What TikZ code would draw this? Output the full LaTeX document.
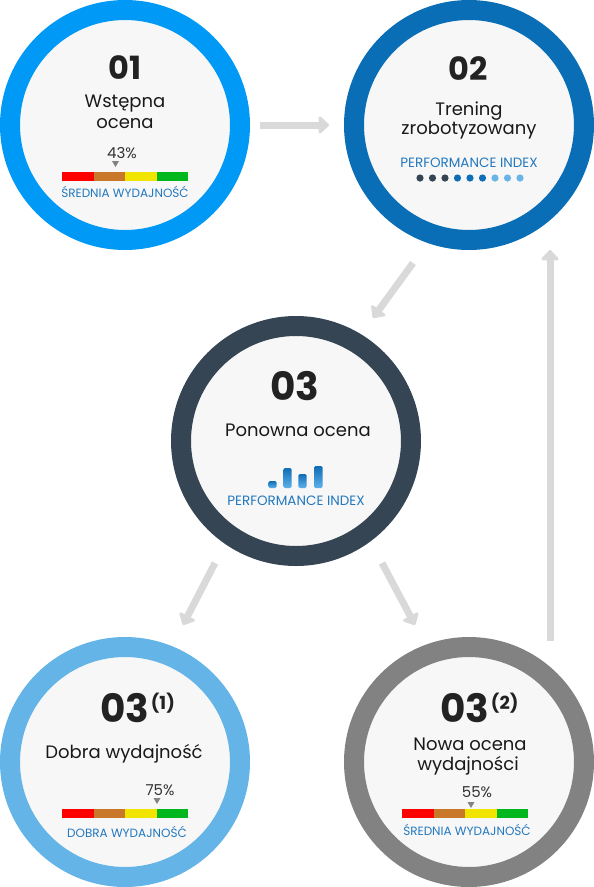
\documentclass[tikz,border=0pt]{standalone}
\usepackage{fontspec}
\setmainfont{Poppins}
\usetikzlibrary{arrows.meta,calc}
\definecolor{ringA}{RGB}{0,153,245}
\definecolor{ringB}{RGB}{10,110,183}
\definecolor{ringC}{RGB}{54,69,84}
\definecolor{ringD}{RGB}{100,180,232}
\definecolor{ringE}{RGB}{130,130,130}
\definecolor{bgc}{RGB}{247,247,247}
\definecolor{arrc}{RGB}{217,217,217}
\definecolor{numc}{RGB}{34,34,34}
\definecolor{txtc}{RGB}{25,25,25}
\definecolor{pctc}{RGB}{50,50,50}
\definecolor{lblc}{RGB}{35,120,190}
\definecolor{bred}{RGB}{255,0,0}
\definecolor{bbrown}{RGB}{200,120,40}
\definecolor{byellow}{RGB}{240,228,0}
\definecolor{bgreen}{RGB}{0,184,30}
\definecolor{mkc}{RGB}{130,130,130}
\definecolor{dotA}{RGB}{54,69,84}
\definecolor{dotB}{RGB}{14,110,184}
\definecolor{dotC}{RGB}{106,180,230}
\definecolor{barTop}{RGB}{15,109,181}
\definecolor{barBot}{RGB}{93,177,234}
\newcommand{\scorebar}[2]{%
  \fill[bred] (#1,#2) rectangle ++(31.5,9);
  \fill[bbrown] (#1+31.5,#2) rectangle ++(31.5,9);
  \fill[byellow] (#1+63,#2) rectangle ++(31.5,9);
  \fill[bgreen] (#1+94.5,#2) rectangle ++(31.5,9);}
\newcommand{\marker}[2]{%
  \fill[mkc] (#1-3.5,#2) -- (#1+3.5,#2) -- (#1,#2+6) -- cycle;}
\tikzset{
  ring/.style={circle, minimum size=230pt, inner sep=0pt, line width=20pt, fill=bgc, draw=#1},
  flow/.style={draw=arrc, line width=7pt, -{Triangle[width=20pt,length=11pt,round]}},
  num/.style={font=\fontsize{32}{32}\selectfont\bfseries, text=numc, inner sep=0pt, anchor=base},
  bignum/.style={font=\fontsize{39}{39}\selectfont\bfseries, text=numc, inner sep=0pt, anchor=base},
  supnum/.style={font=\fontsize{18}{18}\selectfont\bfseries, text=numc, inner sep=0pt, anchor=base west},
  ttl/.style={font=\fontsize{18}{18}\selectfont, text=txtc, inner sep=0pt, anchor=base},
  pct/.style={font=\fontsize{15}{15}\selectfont, text=pctc, inner sep=0pt, anchor=base},
  lbl/.style={font=\fontsize{12}{12}\selectfont, text=lblc, inner sep=0pt, anchor=base},
  lblbig/.style={font=\fontsize{13.5}{13.5}\selectfont, text=lblc, inner sep=0pt, anchor=base},
}
\begin{document}
\begin{tikzpicture}[x=1pt,y=-1pt]
\useasboundingbox (0,0) rectangle (594,887);
% circles
\node[ring=ringA] (c1) at (125,125) {};
\node[ring=ringB] (c2) at (469,125) {};
\node[ring=ringC] (c3) at (296,441) {};
\node[ring=ringD] (c4) at (125,762) {};
\node[ring=ringE] (c5) at (469,762) {};
% connectors
\draw[flow] ($(c1)+(135,0)$) -- ($(c2)+(-140,0)$);
\draw[flow] ($(c2)+(-56,138)$) -- ($(c3)+(77,-123)$);
\draw[flow] ($(c3)+(-81,122)$) -- ($(c4)+(58,-137)$);
\draw[flow] ($(c3)+(86,122)$) -- ($(c5)+(-54,-137)$);
\draw[flow] ($(c5)+(81,-121)$) -- ($(c2)+(81,125)$);
% circle 1
\node[num] (n1) at (125,79) {01};
\node[ttl] (t1a) at (125,107) {Wstępna};
\node[ttl] (t1b) at (125,128) {ocena};
\node[pct] (p1) at (122,158) {43\%};
\marker{115.5}{161}
\scorebar{62}{172}
\node[lbl] (l1) at (125,197) {ŚREDNIA WYDAJNOŚĆ};
% circle 2
\node[num] (n2) at (468,80) {02};
\node[ttl] (t2a) at (469,115) {Trening};
\node[ttl] (t2b) at (469,134) {zrobotyzowany};
\node[lblbig] (l2) at (469,167) {PERFORMANCE INDEX};
\foreach \i/\c in {0/dotA,1/dotA,2/dotA,3/dotB,4/dotB,5/dotB,6/dotC,7/dotC,8/dotC}
  \fill[\c] (420+\i*12.5,178) circle (3.6);
% circle 3
\node[bignum] (n3) at (295,400) {03};
\node[ttl] (t3) at (298,436) {Ponowna ocena};
\shade[top color=barTop, bottom color=barBot, rounded corners=1.5pt] (268.3,488) rectangle (276.7,481);
\shade[top color=barTop, bottom color=barBot, rounded corners=1.5pt] (283.3,488) rectangle (291.7,468);
\shade[top color=barTop, bottom color=barBot, rounded corners=1.5pt] (298.3,488) rectangle (306.7,474);
\shade[top color=barTop, bottom color=barBot, rounded corners=1.5pt] (314,488) rectangle (322.7,466);
\node[lblbig] (l3) at (296,505) {PERFORMANCE INDEX};
% circle 4
\node[bignum] (n4) at (125,722) {03};
\node[supnum] (s4) at (n4.base east) [xshift=1pt, yshift=13pt] {(1)};
\node[ttl] (t4) at (124,758) {Dobra wydajność};
\node[pct] (p4) at (160,795) {75\%};
\marker{157}{798}
\scorebar{62}{809}
\node[lbl] (l4) at (127,837) {DOBRA WYDAJNOŚĆ};
% circle 5
\node[bignum] (n5) at (465,722) {03};
\node[supnum] (s5) at (n5.base east) [xshift=1pt, yshift=13pt] {(2)};
\node[ttl] (t5a) at (470,750) {Nowa ocena};
\node[ttl] (t5b) at (468,770) {wydajności};
\node[pct] (p5) at (477,797) {55\%};
\marker{471}{802}
\scorebar{402}{809}
\node[lbl] (l5) at (467,835) {ŚREDNIA WYDAJNOŚĆ};
\end{tikzpicture}
\end{document}
